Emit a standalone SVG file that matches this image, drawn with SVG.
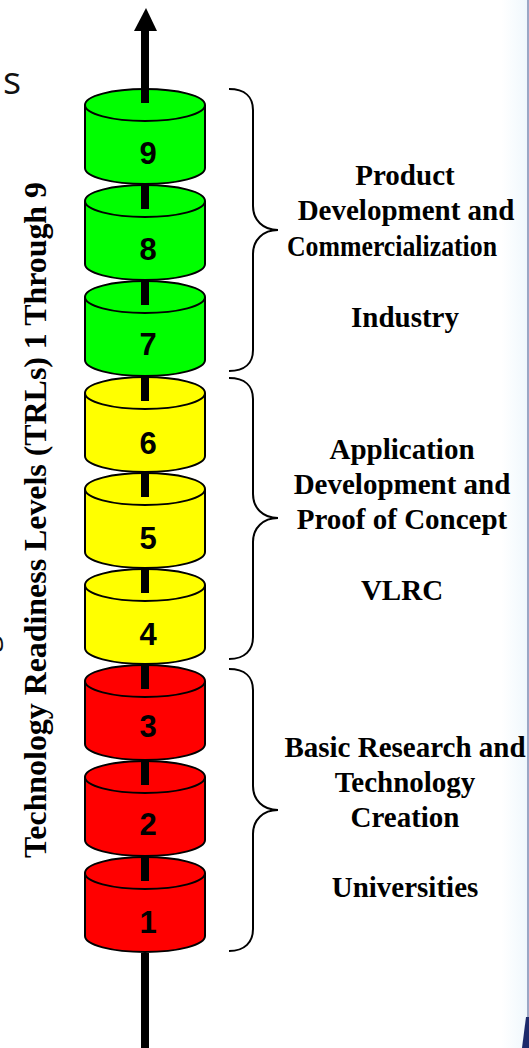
<svg xmlns="http://www.w3.org/2000/svg" width="529" height="1048" viewBox="0 0 529 1048">
<defs>
<linearGradient id="bg" x1="0" x2="1" y1="0" y2="0"><stop offset="0" stop-color="#ffffff"/><stop offset="0.8" stop-color="#ffffff"/><stop offset="0.97" stop-color="#f2f9fd"/><stop offset="1" stop-color="#eef7fc"/></linearGradient>
<g id="cyl">
<path class="body" d="M85 16V79C85 88 112 95 145 95S205 88 205 79V16C205 7 178 0 145 0S85 7 85 16Z"/>
<path class="lip" d="M85 16C85 25 112 32 145 32S205 25 205 16"/>
</g>
</defs>
<style>
.body{stroke:#000;stroke-width:2}
.lip{fill:none;stroke:#000;stroke-width:2}
.shaft{fill:#000}
.brace{fill:none;stroke:#000;stroke-width:2}
.n{font:bold 31px "Liberation Sans",Arial,sans-serif;text-anchor:middle;fill:#000}
.t{font:bold 29px "Liberation Serif","Times New Roman",serif;text-anchor:middle;fill:#000}
.v{font:bold 32px "Liberation Serif","Times New Roman",serif;text-anchor:middle;fill:#000}
.g{fill:#00ff00}.y{fill:#ffff00}.r{fill:#ff0000}
</style>
<rect width="529" height="1048" fill="#fff"/>
<rect x="400" width="127" height="1048" fill="url(#bg)"/>
<rect x="527" width="2" height="1048" fill="#9aa6c4"/>
<path d="M529 1048H522L526 1017H529Z" fill="#1c2a6b"/>
<text x="3" y="94" font-family="Open Sans,sans-serif" font-size="38" fill="#111">s</text>
<text transform="translate(-4,652) rotate(-90)" font-family="Open Sans,sans-serif" font-size="30" fill="#111">g</text>
<g id="cylinders">
<g id="trl9" class="g"><use href="#cyl" y="89"/><rect class="shaft" x="141" y="31" width="8" height="72"/><text class="n" x="148" y="164">9</text></g>
<g id="trl8" class="g"><use href="#cyl" y="185"/><rect class="shaft" x="141" y="184" width="8" height="25"/><text class="n" x="148" y="260">8</text></g>
<g id="trl7" class="g"><use href="#cyl" y="281"/><rect class="shaft" x="141" y="280" width="8" height="25"/><text class="n" x="148" y="355">7</text></g>
<g id="trl6" class="y"><use href="#cyl" y="377"/><rect class="shaft" x="141" y="376" width="8" height="25"/><text class="n" x="148" y="454">6</text></g>
<g id="trl5" class="y"><use href="#cyl" y="473"/><rect class="shaft" x="141" y="472" width="8" height="25"/><text class="n" x="148" y="549">5</text></g>
<g id="trl4" class="y"><use href="#cyl" y="569"/><rect class="shaft" x="141" y="568" width="8" height="25"/><text class="n" x="148" y="645">4</text></g>
<g id="trl3" class="r"><use href="#cyl" y="665"/><rect class="shaft" x="141" y="664" width="8" height="25"/><text class="n" x="148" y="737">3</text></g>
<g id="trl2" class="r"><use href="#cyl" y="761"/><rect class="shaft" x="141" y="760" width="8" height="25"/><text class="n" x="148" y="835">2</text></g>
<g id="trl1" class="r"><use href="#cyl" y="857"/><rect class="shaft" x="141" y="856" width="8" height="25"/><text class="n" x="148" y="933">1</text></g>
</g>
<g id="connectors">
<path class="shaft" d="M146 8L157 31H134Z"/>
<rect class="shaft" x="141" y="953" width="8" height="95"/>
<path class="brace" d="M229 89C245 89 253 97 253 110V206C253 220 263 230 278 230C263 230 253 240 253 254V350C253 363 245 371 229 371"/>
<path class="brace" d="M229 378C245 378 253 386 253 399V494C253 508 263 518 278 518C263 518 253 528 253 542V637C253 650 245 659 229 659"/>
<path class="brace" d="M229 669C245 669 253 677 253 690V786C253 800 263 810 278 810C263 810 253 820 253 834V929C253 942 245 951 229 951"/>
</g>
<text class="v" transform="translate(46,520) rotate(-90)" textLength="676" lengthAdjust="spacingAndGlyphs">Technology Readiness Levels (TRLs) 1 Through 9</text>
<g id="band-top"><text class="t" x="405" y="185">Product</text><text class="t" x="406" y="220">Development and</text><text class="t" x="392" y="256" textLength="210" lengthAdjust="spacingAndGlyphs">Commercialization</text><text class="t" x="405" y="327">Industry</text></g>
<g id="band-mid"><text class="t" x="402" y="459">Application</text><text class="t" x="402" y="494">Development and</text><text class="t" x="402" y="529">Proof of Concept</text><text class="t" x="402" y="600">VLRC</text></g>
<g id="band-low"><text class="t" x="405" y="757">Basic Research and</text><text class="t" x="405" y="792">Technology</text><text class="t" x="405" y="827">Creation</text><text class="t" x="405" y="897">Universities</text></g>
</svg>
